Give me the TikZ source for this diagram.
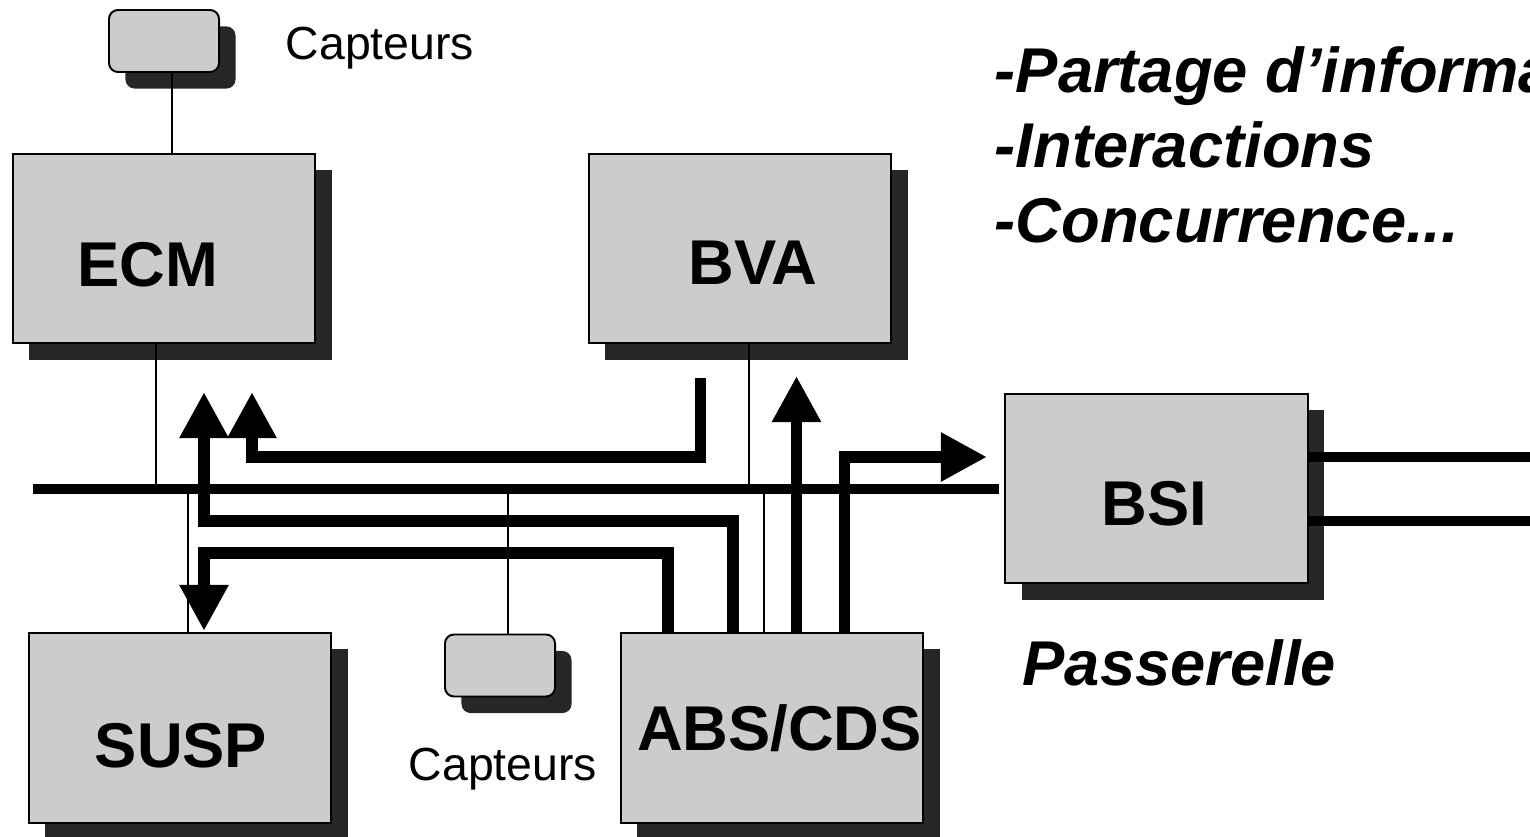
\documentclass[tikz,border=0pt]{standalone}
\usepackage{fontspec}
\setmainfont{Liberation Sans}
\usepackage{tikz}
\usetikzlibrary{arrows.meta,shadows}
\definecolor{boxgray}{HTML}{CCCCCC}
\definecolor{shadowgray}{HTML}{272727}

\begin{document}
\begin{tikzpicture}[x=0.01cm,y=-0.01cm,
  unit/.style={draw,line width=0.55pt,fill=boxgray,minimum width=3.02cm,minimum height=1.9cm,inner sep=0pt,
    drop shadow={shadow xshift=1.65mm,shadow yshift=-1.65mm,fill=shadowgray,opacity=1}},
  sensor/.style={unit,rounded corners=0.9mm,minimum width=1.1cm,minimum height=0.62cm},
  unitname/.style={anchor=base,inner sep=0pt,font=\bfseries\fontsize{18}{20}\selectfont},
  capt/.style={anchor=base west,inner sep=0pt,font=\fontsize{13.2}{15}\selectfont},
  note/.style={anchor=base west,inner sep=0pt,font=\bfseries\itshape\fontsize{18}{20}\selectfont},
  wire/.style={line width=0.55pt},
  bus/.style={line width=1mm},
  flow/.style={line width=1.15mm,-{Triangle[width=4.6mm,length=4.6mm]}}]
\useasboundingbox (0,0) rectangle (1530,837);
\node[sensor] (capt1) at (164,41) {};
\node[capt] (capt1lbl) at (285,60) {Capteurs};
\node[unit,minimum height=1.89cm] (ecm) at (164,248.5) {};
\node[unitname] (ecmlbl) at (147.5,287) {ECM};
\node[unit,minimum height=1.89cm] (bva) at (740,248.5) {};
\node[unitname] (bvalbl) at (753,285) {BVA};
\node[unit] (susp) at (180,728) {};
\node[unitname] (susplbl) at (181,767) {SUSP};
\node[sensor] (capt2) at (500,665.5) {};
\node[capt] (capt2lbl) at (408,780) {Capteurs};
\node[unit] (abs) at (772,728) {};
\node[unitname] (abslbl) at (779.5,750) {ABS/CDS};
\node[unit,minimum height=1.89cm] (bsi) at (1156.5,488.5) {};
\node[unitname] (bsilbl) at (1154.5,525) {BSI};
\node[note] (passlbl) at (1022,685) {Passerelle};
\node[note] (info1) at (994,93) {-Partage d’informa};
\node[note] (info2) at (994,168) {-Interactions};
\node[note] (info3) at (994,243) {-Concurrence...};
\coordinate (busW) at (33,489);
\coordinate (busE) at (999,489);
\draw[bus] (busW) -- (busE);
\coordinate (tapECM) at (156,489);
\coordinate (tapBVA) at (749,489);
\coordinate (tapSUSP) at (188,489);
\coordinate (tapCapt) at (508,489);
\coordinate (tapABS) at (764,489);
\draw[wire] ([xshift=0.08cm]capt1.south) -- ([xshift=0.08cm]ecm.north);
\draw[wire] (ecm.south -| tapECM) -- (tapECM);
\draw[wire] (bva.south -| tapBVA) -- (tapBVA);
\draw[wire] (tapSUSP) -- (susp.north -| tapSUSP);
\draw[wire] (tapCapt) -- (capt2.north -| tapCapt);
\draw[wire] (tapABS) -- (abs.north -| tapABS);
\coordinate (bend1) at (733,521);
\coordinate (tip1) at (204,392);
\draw[flow] (abs.north -| bend1) -- (bend1) -| (tip1);
\coordinate (start2) at (700.5,378);
\coordinate (bend2) at (252,457);
\coordinate (tip2) at (252,392);
\draw[flow] (start2) |- (bend2) -- (tip2);
\coordinate (bend3) at (668,553);
\coordinate (tip3) at (204,631);
\draw[flow] (abs.north -| bend3) -- (bend3) -| (tip3);
\coordinate (tip4) at (796.5,376);
\draw[flow] (abs.north -| tip4) -- (tip4);
\coordinate (rise5) at (844.5,457);
\coordinate (tip5) at (987,457);
\draw[flow] (abs.north -| rise5) |- (tip5);
\coordinate (out1) at (1530,457);
\coordinate (out2) at (1530,521);
\draw[bus] (bsi.east |- out1) -- (out1);
\draw[bus] (bsi.east |- out2) -- (out2);
\end{tikzpicture}
\end{document}
